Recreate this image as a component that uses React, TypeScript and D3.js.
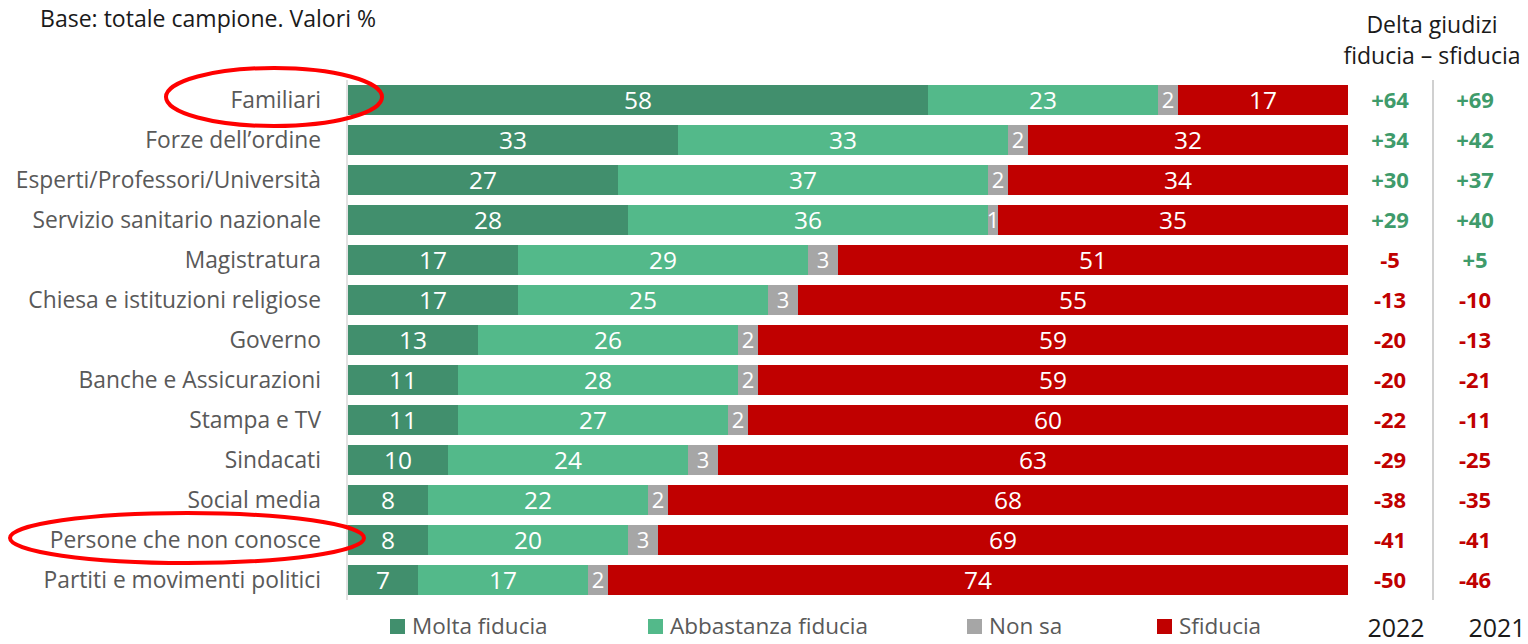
import React from "react";
import * as d3 from "d3";

const categories = [
  "Familiari",
  "Forze dell’ordine",
  "Esperti/Professori/Università",
  "Servizio sanitario nazionale",
  "Magistratura",
  "Chiesa e istituzioni religiose",
  "Governo",
  "Banche e Assicurazioni",
  "Stampa e TV",
  "Sindacati",
  "Social media",
  "Persone che non conosce",
  "Partiti e movimenti politici",
];
const molta = [58, 33, 27, 28, 17, 17, 13, 11, 11, 10, 8, 8, 7];
const abbastanza = [23, 33, 37, 36, 29, 25, 26, 28, 27, 24, 22, 20, 17];
const nonSa = [2, 2, 2, 1, 3, 3, 2, 2, 2, 3, 2, 3, 2];
const sfiducia = [17, 32, 34, 35, 51, 55, 59, 59, 60, 63, 68, 69, 74];
const delta2022 = [64, 34, 30, 29, -5, -13, -20, -20, -22, -29, -38, -41, -50];
const delta2021 = [69, 42, 37, 40, 5, -10, -13, -21, -11, -25, -35, -41, -46];
const seriesNames = ["Molta fiducia", "Abbastanza fiducia", "Non sa", "Sfiducia"];
const years = ["2022", "2021"];
const highlighted = ["Familiari", "Persone che non conosce"];

const colors = ["#418f6d", "#53b98a", "#a6a6a6", "#c00000"];
const FONT = "'Open Sans', sans-serif";

export default function App() {
  const W = 1528;
  const H = 644;
  const x = d3.scaleLinear().domain([0, 100]).range([348, 1348]);
  const y = d3
    .scaleBand<string>()
    .domain(categories)
    .range([80, 600])
    .paddingInner(0.25)
    .paddingOuter(0.125);
  const seriesVals = [molta, abbastanza, nonSa, sfiducia];
  const rows = categories.map((c, i) => {
    const vals = seriesVals.map((s) => s[i]);
    const cum = d3.cumsum(vals);
    return { c, segs: vals.map((v, k) => ({ v, x0: cum[k] - v, x1: cum[k], k })) };
  });
  const legendX = [390, 648, 967, 1157];
  const colX = [1390, 1475];
  const yearX = [1396, 1497];
  const fmt = (v: number) => (v > 0 ? "+" + v : String(v));
  const ellipses = [
    { c: highlighted[0], cx: 274, rx: 108, ry: 29, dy: -3 },
    { c: highlighted[1], cx: 187, rx: 177, ry: 25, dy: -2 },
  ];
  return (
    <svg
      width={W}
      height={H}
      style={{ position: "absolute", left: 0, top: 0, background: "#fff" }}
      fontFamily={FONT}
    >
      <text x={40} y={27} fontSize={23} fill="#1a1a1a" textLength={336} lengthAdjust="spacingAndGlyphs">
        Base: totale campione. Valori %
      </text>
      <text x={1432} y={33} fontSize={23} fill="#1a1a1a" textAnchor="middle">
        Delta giudizi
      </text>
      <text x={1432} y={64} fontSize={23} fill="#1a1a1a" textAnchor="middle">
        fiducia – sfiducia
      </text>
      <line x1={347} x2={347} y1={80} y2={600} stroke="#d9d9d9" strokeWidth={1.5} />
      <line x1={1433} x2={1433} y1={80} y2={600} stroke="#d0d0d0" strokeWidth={2} />
      {rows.map((r, i) => {
        const by = y(r.c)!;
        const bh = y.bandwidth();
        const cy = by + bh / 2;
        return (
          <g key={r.c}>
            <text x={321} y={cy} dy="0.35em" fontSize={22.8} fill="#595959" textAnchor="end">
              {r.c}
            </text>
            {r.segs.map((s) => (
              <g key={s.k}>
                <rect x={x(s.x0)} y={by} width={x(s.x1) - x(s.x0)} height={bh} fill={colors[s.k]} />
                <text
                  x={(x(s.x0) + x(s.x1)) / 2}
                  y={cy}
                  dy="0.36em"
                  fontSize={s.k === 2 ? 22 : 24.5}
                  fill="#fff"
                  textAnchor="middle"
                >
                  {s.v}
                </text>
              </g>
            ))}
            {[delta2022[i], delta2021[i]].map((d, k) => (
              <text
                key={k}
                x={colX[k]}
                y={cy}
                dy="0.35em"
                fontSize={22}
                fontWeight="bold"
                fill={d > 0 ? "#3f9b6b" : "#c00000"}
                textAnchor="middle"
              >
                {fmt(d)}
              </text>
            ))}
          </g>
        );
      })}
      {seriesNames.map((n, k) => (
        <g key={n}>
          <rect x={legendX[k]} y={619} width={15} height={15} fill={colors[k]} />
          <text x={legendX[k] + 22} y={626} dy="0.35em" fontSize={22.5} fill="#595959">
            {n}
          </text>
        </g>
      ))}
      {years.map((t, k) => (
        <text key={t} x={yearX[k]} y={637} fontSize={25} fill="#1a1a1a" textAnchor="middle">
          {t}
        </text>
      ))}
      {ellipses.map((e) => (
        <ellipse
          key={e.c}
          cx={e.cx}
          cy={y(e.c)! + y.bandwidth() / 2 + e.dy}
          rx={e.rx}
          ry={e.ry}
          fill="none"
          stroke="#ff0000"
          strokeWidth={4}
        />
      ))}
    </svg>
  );
}
